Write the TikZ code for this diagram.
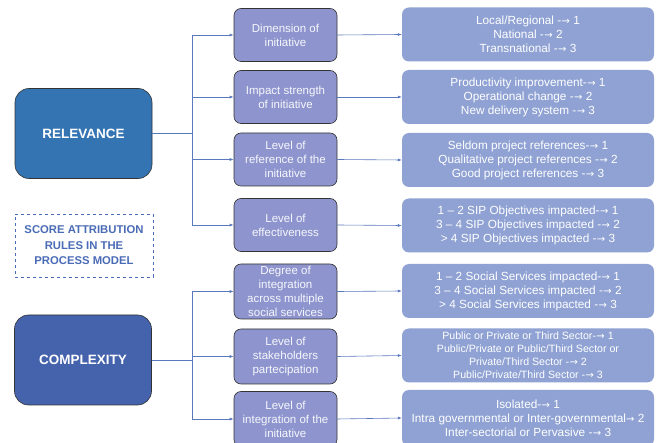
\documentclass[tikz,border=0pt]{standalone}
\usepackage{fontspec}
\setmainfont{Liberation Sans}
\newfontfamily\arrowfont{DejaVu Sans}
\usepackage{xcolor}
\usepackage{tikz}
\usetikzlibrary{arrows.meta}

\definecolor{relblue}{HTML}{3474B2}
\definecolor{cpxblue}{HTML}{4563AC}
\definecolor{midfill}{HTML}{8E95CE}
\definecolor{rightfill}{HTML}{8FA2D3}
\definecolor{linkblue}{HTML}{5A78BE}
\definecolor{scoreblue}{HTML}{4A6BB5}

\newcommand{\scoreto}{-\kern0.4pt{\arrowfont\fontsize{10}{12}\selectfont →}}
\newcommand{\scoretoc}{{\arrowfont\fontsize{10}{12}\selectfont →}}

\tikzset{
  mainbox/.style={draw=black!80, line width=0.6pt, rounded corners=14pt, text=white,
    minimum width=137pt, minimum height=90pt, font=\fontsize{13.5}{16}\selectfont\bfseries},
  midbox/.style={draw=black!80, line width=0.6pt, fill=midfill, rounded corners=7pt,
    text=white!92!midfill, minimum width=103pt, minimum height=53pt, align=center,
    inner sep=1pt, font=\fontsize{11.5}{14}\selectfont},
  rightbox/.style={fill=rightfill, rounded corners=7pt, text=white,
    minimum width=252pt, minimum height=54pt, align=center, inner sep=1pt,
    font=\fontsize{11.8}{14}\selectfont},
  link/.style={draw=linkblue, line width=0.6pt},
  arrowlink/.style={link, -{Latex[length=4pt,width=3pt]}}
}

\begin{document}
\begin{tikzpicture}[x=1pt, y=-1pt]
  \useasboundingbox (0,0) rectangle (656,443);
  \clip (0,0) rectangle (656,443);

  \node[mainbox, fill=relblue] (rel) at (83.5,133.5) {RELEVANCE};
  \node[mainbox, fill=cpxblue] (cpx) at (83,360) {COMPLEXITY};
  \node[draw=scoreblue, dashed, line width=0.6pt, minimum width=138pt, minimum height=63pt,
    align=center, text=scoreblue, font=\fontsize{11.3}{15.5}\selectfont\bfseries]
    (score) at (84,245.5) {SCORE ATTRIBUTION\\RULES IN THE\\PROCESS MODEL};

  \coordinate (relsplit) at (192,133.5);
  \coordinate (cpxsplit) at (192,360);

  % criteria
  \node[midbox] (m1) at (285.5,35) {Dimension of\\initiative};
  \node[midbox] (m2) at (285.5,97) {Impact strength\\of initiative};
  \node[midbox] (m3) at (285.5,159.5) {Level of\\reference of the\\initiative};
  \node[midbox] (m4) at (285.5,225) {Level of\\effectiveness};
  \node[midbox, minimum height=55pt] (m5) at (285.5,291.5) {Degree of\\integration\\across multiple\\social services};
  \node[midbox, minimum height=55pt] (m6) at (285.5,356.5) {Level of\\stakeholders\\partecipation};
  \node[midbox, minimum height=55pt] (m7) at (285.5,419) {Level of\\integration of the\\initiative};

  % scores
  \node[rightbox] (r1) at (528,34.5) {Local/Regional \scoreto{} 1\\National \scoreto{} 2\\Transnational \scoreto{} 3};
  \node[rightbox] (r2) at (528,97) {Productivity improvement\scoreto{} 1\\Operational change \scoreto{} 2\\New delivery system \scoreto{} 3};
  \node[rightbox] (r3) at (528,160) {Seldom project references\scoreto{} 1\\Qualitative project references \scoreto{} 2\\Good project references \scoreto{} 3};
  \node[rightbox] (r4) at (528,225.5) {1 – 2 SIP Objectives impacted\scoreto{} 1\\3 – 4 SIP Objectives impacted \scoreto{} 2\\> 4 SIP Objectives impacted \scoreto{} 3};
  \node[rightbox] (r5) at (528,291) {1 – 2 Social Services impacted\scoreto{} 1\\3 – 4 Social Services impacted \scoreto{} 2\\> 4 Social Services impacted \scoreto{} 3};
  \node[rightbox, font=\fontsize{10.6}{13}\selectfont] (r6) at (528,355.5) {Public or Private or Third Sector\scoreto{} 1\\Public/Private or Public/Third Sector or\\Private/Third Sector \scoreto{} 2\\Public/Private/Third Sector \scoreto{} 3};
  \node[rightbox, minimum height=56pt] (r7) at (528,418) {Isolated\scoreto{} 1\\Intra governmental or Inter-governmental\scoretoc{} 2\\Inter-sectorial or Pervasive \scoreto{} 3};

  % branches
  \draw[link] (rel.east) -- (relsplit);
  \draw[link] (cpx.east) -- (cpxsplit);
  \draw[link] (relsplit |- m1.west) -- (relsplit |- m4.west);
  \draw[link] (cpxsplit |- m5.west) -- (cpxsplit |- m7.west);
  \foreach \i in {1,2,3,4}
    \draw[arrowlink] (relsplit |- m\i.west) -- (m\i.west);
  \foreach \i in {5,6,7}
    \draw[arrowlink] (cpxsplit |- m\i.west) -- (m\i.west);
  \foreach \i in {1,...,7}
    \draw[arrowlink] (m\i.east) -- (r\i.west);
\end{tikzpicture}
\end{document}
